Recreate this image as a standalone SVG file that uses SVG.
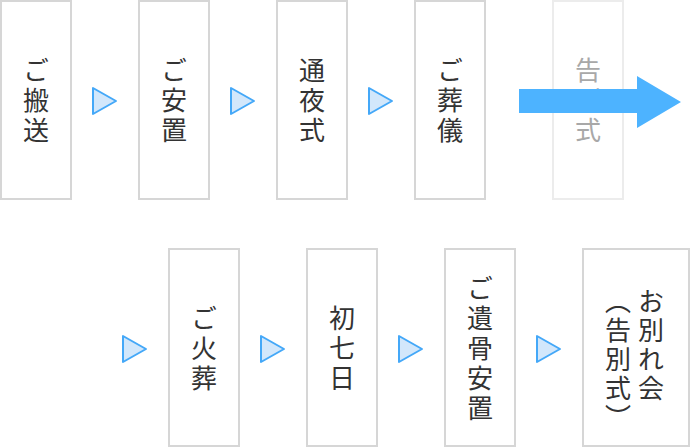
<svg xmlns="http://www.w3.org/2000/svg" width="690" height="448" viewBox="0 0 690 448">
<defs>
<style>
.box{fill:#fff;stroke:#d6d6d6;stroke-width:2}
.fbox{fill:#fff;stroke:#ececec;stroke-width:2}
.t{font-family:"Noto Sans CJK JP","Noto Sans CJK SC",sans-serif;font-size:26px;fill:#333;writing-mode:vertical-rl;text-anchor:middle;letter-spacing:4px}
.ft{fill:#a8a8a8}
.tri{fill:#d2e7fb;stroke:#44a8f8;stroke-width:2;stroke-linejoin:round}
.big{fill:#4db3ff}
</style>
<path id="tr" d="M0,-13 L0,13 L23,0 Z"/>
</defs>
<rect width="690" height="448" fill="#fff"/>
<g id="n1"><rect class="box" x="1" y="1" width="70" height="198"/><text class="t" x="36" y="102">ご搬送</text></g>
<g id="n2"><rect class="box" x="139" y="1" width="70" height="198"/><text class="t" x="174" y="102">ご安置</text></g>
<g id="n3"><rect class="box" x="277" y="1" width="70" height="198"/><text class="t" x="312" y="102">通夜式</text></g>
<g id="n4"><rect class="box" x="415" y="1" width="70" height="198"/><text class="t" x="450" y="102">ご葬儀</text></g>
<g id="n5"><rect class="fbox" x="553" y="1" width="70" height="198"/><text class="t ft" x="588" y="102">告別式</text></g>
<g id="n6"><rect class="box" x="169" y="249" width="70" height="197"/><text class="t" x="204" y="350">ご火葬</text></g>
<g id="n7"><rect class="box" x="307" y="249" width="70" height="197"/><text class="t" x="342" y="350">初七日</text></g>
<g id="n8"><rect class="box" x="445" y="249" width="70" height="197"/><text class="t" x="480" y="350">ご遺骨安置</text></g>
<g id="n9"><rect class="box" x="583" y="249" width="106" height="197"/>
<text class="t" x="651" y="288" style="text-anchor:start;letter-spacing:3px">お別れ会</text>
<text class="t" x="618" y="288" style="text-anchor:start;letter-spacing:3px">（告別式）</text></g>
<g id="connectors">
<use href="#tr" class="tri" x="93" y="101"/>
<use href="#tr" class="tri" x="231" y="101"/>
<use href="#tr" class="tri" x="369" y="101"/>
<path class="big" d="M519,89 H637 V76 L681,102 L637,128 V113 H519 Z"/>
<use href="#tr" class="tri" x="123" y="349"/>
<use href="#tr" class="tri" x="261" y="349"/>
<use href="#tr" class="tri" x="399" y="349"/>
<use href="#tr" class="tri" x="537" y="349"/>
</g>
</svg>
